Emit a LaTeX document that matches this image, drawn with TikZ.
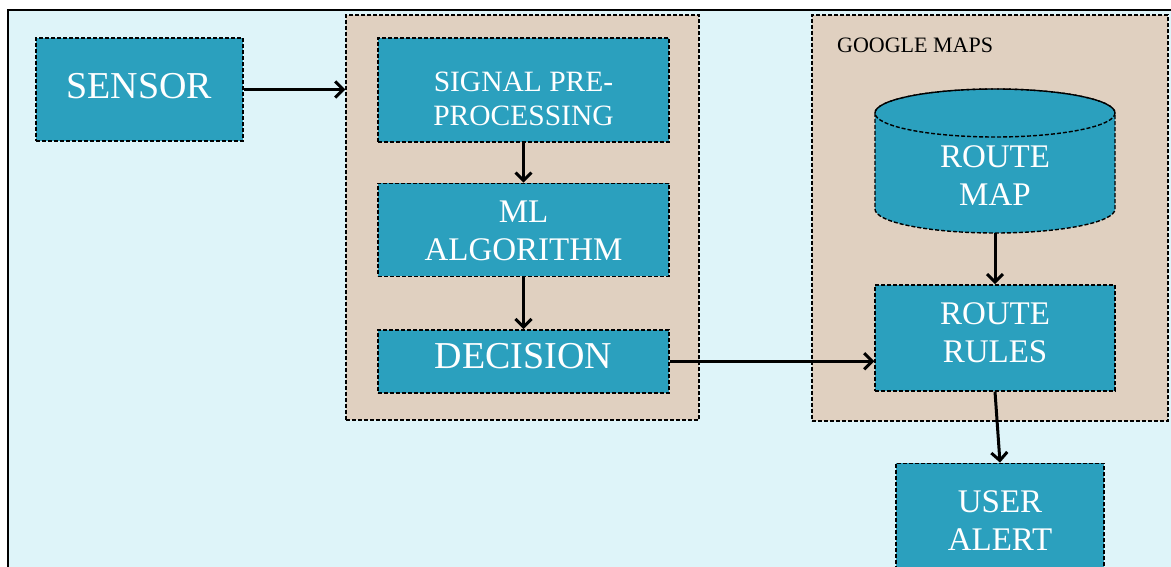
\documentclass[tikz,border=0pt]{standalone}
\usepackage{fontspec}
\setmainfont{Liberation Serif}
\usetikzlibrary{shapes.geometric, arrows.meta, positioning}
\definecolor{skyback}{HTML}{DEF4F9}
\definecolor{tanfill}{HTML}{E0D0C0}
\definecolor{tealfill}{HTML}{2BA0BE}
\tikzset{
    dashline/.style={draw=black, dash pattern=on 4pt off 2pt, line width=1.4pt},
    block/.style={rectangle, dashline, fill=tealfill, text=white, align=center, inner sep=0pt, font=\fontsize{33}{38}\selectfont},
    group/.style={rectangle, dashline, fill=tanfill, inner sep=0pt},
    dbtext/.style={rectangle, text=white, align=center, inner sep=0pt, font=\fontsize{33}{38}\selectfont},
    arrow/.style={line width=3pt, -{Straight Barb[length=8pt, width=16pt]}}
}
\begin{document}
\begin{tikzpicture}[x=1pt, y=-1pt, node distance=40pt]
    \useasboundingbox (0,0) rectangle (1171,567);
    % Background
    \fill[white] (0,0) rectangle (1171,567);
    \draw[line width=2pt, fill=skyback] (8,10) rectangle (1200,600);
    % Groups
    \node (procgroup) [group, minimum width=353pt, minimum height=405pt] at (522.5,217.5) {};
    \node (mapsgroup) [group, minimum width=356pt, minimum height=406pt] at (990,218) {};
    \node (mapslabel) [anchor=base west, inner sep=0pt, font=\fontsize{22}{26}\selectfont] at (837,53) {GOOGLE MAPS};
    % Database drum
    \coordinate (dbtop) at (995,113);
    \filldraw[dashline, fill=tealfill] (dbtop) ++(-120,0) -- ++(0,96)
        arc[start angle=180, end angle=0, x radius=120, y radius=24] -- ++(0,-96)
        arc[start angle=0, end angle=-180, x radius=120, y radius=24] -- cycle;
    \draw[dashline] (dbtop) ellipse[x radius=120, y radius=24];
    % Nodes
    \node (sensor) [block, minimum width=207pt, minimum height=103pt, text depth=8pt, font=\fontsize{38}{44}\selectfont] at (139.5,89.5) {SENSOR};
    \node (preproc) [block, minimum width=291pt, minimum height=104pt, text height=72pt, text depth=0pt, font=\fontsize{29.5}{34}\selectfont] at (523.5,90) {SIGNAL PRE-\\PROCESSING};
    \node (mlalgo) [block, minimum width=291pt, minimum height=93pt, text height=61pt, text depth=0pt, below=of preproc] {ML\\ALGORITHM};
    \node (decision) [block, minimum width=291pt, minimum height=63pt, text depth=10pt, below=52pt of mlalgo, font=\fontsize{38}{44}\selectfont] {DECISION};
    \node (routemap) [dbtext, minimum width=240pt, minimum height=144pt, text height=90pt, text depth=0pt] at (995,161) {ROUTE\\MAP};
    \node (routerules) [block, minimum width=240pt, minimum height=106pt, text depth=10pt, below=51pt of routemap] {ROUTE\\RULES};
    \node (useralert) [block, minimum width=208pt, minimum height=105pt, text height=69pt, text depth=0pt, below=71pt of routerules, xshift=5pt] {USER\\ALERT};
    % Arrows
    \draw [arrow] (sensor.east) -- (sensor.east -| procgroup.west);
    \draw [arrow] (preproc) -- (mlalgo);
    \draw [arrow] (mlalgo) -- (decision);
    \draw [arrow] (decision.east) -- (decision.east -| routerules.west);
    \draw [arrow] (routemap.south) -- (routerules.north);
    \draw [arrow] (routerules.south) -- (useralert.north);
\end{tikzpicture}
\end{document}
